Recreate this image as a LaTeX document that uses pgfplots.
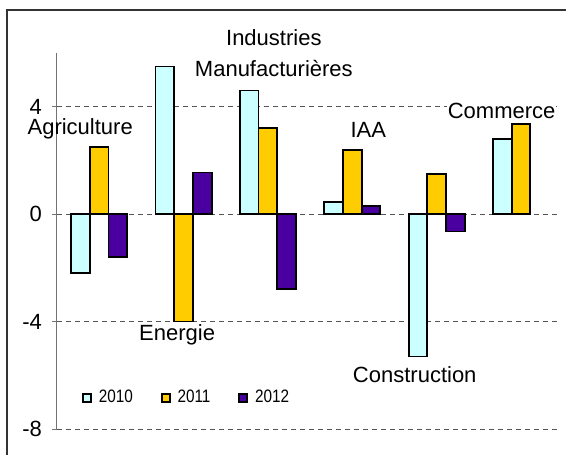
\documentclass[border=0pt]{standalone}
\usepackage{pgfplots}
\pgfplotsset{compat=1.18}
\usepackage{fontspec}
\setmainfont{Liberation Sans}
\newfontfamily\legfont[FakeStretch=0.85]{Liberation Sans}

\definecolor{c2010}{HTML}{CCFFFF}
\definecolor{c2011}{HTML}{FFCC00}
\definecolor{c2012}{HTML}{4A00A0}
\definecolor{gridInk}{HTML}{555555}

\newcommand{\lab}{\fontsize{11}{13}\selectfont}

\begin{document}
\begin{tikzpicture}
  % page = 566x454 px at 0.5pt per px; axis box starts at px (57,429)
  \useasboundingbox (-28.5pt,-12.5pt) rectangle (254.5pt,214.5pt);
  \draw[black!80, line width=0.6pt] (-25pt,-14pt) -- (-25pt,209.5pt) -- (256pt,209.5pt);
  \begin{axis}[
    scale only axis,
    width=251pt, height=188pt,
    at={(0,0)}, anchor=south west,
    xmin=-0.5, xmax=5.45,
    ymin=-8, ymax=6,
    axis x line=none,
    axis y line=left,
    axis line style={-, draw=black!55, line width=0.5pt},
    xtick=\empty,
    ytick={-8,-4,0,4},
    yticklabels={-8,-4,0,4},
    tick align=outside,
    major tick length=2.5pt,
    y tick style={draw=black!55, line width=0.5pt},
    yticklabel style={font=\lab, xshift=-1.5pt},
    ymajorgrids,
    major grid style={draw=gridInk, line width=0.5pt, dash pattern=on 2.5pt off 2pt},
    ybar=0pt,
    bar width=9.35pt,
    clip=false,
    legend columns=3,
    legend style={
      draw=none, fill=none, inner sep=0pt, outer sep=0pt,
      at={(axis cs:-0.2,-6.85)}, anchor=west,
      font=\legfont\fontsize{9}{10}\selectfont,
      nodes={inner sep=0pt},
      /tikz/every odd column/.append style={column sep=3.5pt},
      /tikz/every even column/.append style={column sep=14pt}
    },
    legend image code/.code={\draw[#1, line width=0.8pt] (0pt,-2pt) rectangle (4pt,2pt);},
  ]
    \addplot[fill=c2010, draw=black, line width=0.9pt] coordinates {
      (0,-2.2) (1,5.5) (2,4.6) (3,0.45) (4,-5.3) (5,2.8)
    };
    \addlegendentry{2010}
    \addplot[fill=c2011, draw=black, line width=0.9pt] coordinates {
      (0,2.5) (1,-4.0) (2,3.2) (3,2.4) (4,1.5) (5,3.35)
    };
    \addlegendentry{2011}
    \addplot[fill=c2012, draw=black, line width=0.9pt] coordinates {
      (0,-1.6) (1,1.55) (2,-2.8) (3,0.3) (4,-0.65)
    };
    \addlegendentry{2012}

    \node[font=\lab] at (axis cs:-0.225,3.17) {Agriculture};
    \node[font=\lab] at (axis cs:0.924,-4.48) {Energie};
    \node[font=\lab] at (axis cs:2.07,6.57) {Industries};
    \node[font=\lab] at (axis cs:2.07,5.41) {Manufacturières};
    \node[font=\lab] at (axis cs:3.19,3.13) {IAA};
    \node[font=\lab, fill=white, inner sep=0.5pt] at (axis cs:4.77,3.84) {Commerce};
    \node[font=\lab] at (axis cs:3.74,-5.98) {Construction};
  \end{axis}
\end{tikzpicture}
\end{document}
